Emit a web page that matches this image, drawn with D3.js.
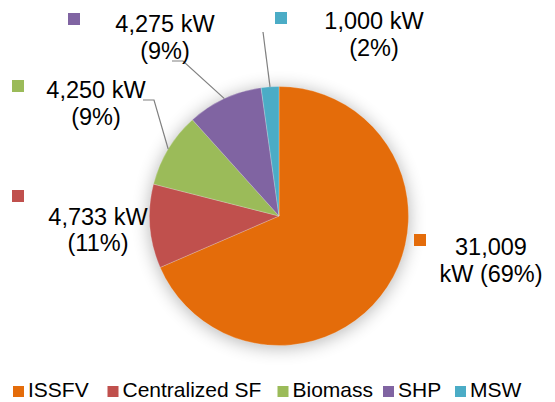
<!DOCTYPE html>
<html><head><meta charset="utf-8">
<script src="https://cdn.jsdelivr.net/npm/d3@7"></script>
<style>html,body{margin:0;padding:0;background:#fff;}svg{display:block;font-family:"Liberation Sans",Arial,sans-serif;}</style>
</head><body>
<svg id="c" width="555" height="402"></svg>
<script>
const categories = ["ISSFV", "Centralized SF", "Biomass", "SHP", "MSW"];
const values = [31009, 4733, 4250, 4275, 1000];
const percentLabels = ["69%", "11%", "9%", "9%", "2%"];
const colors = ["#E46C0A", "#C0504D", "#9BBB59", "#8064A2", "#4BACC6"];

const svg = d3.select("#c");
const cx = 279, cy = 216, R = 129.5;

const defs = svg.append("defs");
const f = defs.append("filter").attr("id", "sh").attr("x", "-30%").attr("y", "-30%").attr("width", "160%").attr("height", "160%");
f.append("feGaussianBlur").attr("in", "SourceAlpha").attr("stdDeviation", 9).attr("result", "b");
f.append("feOffset").attr("in", "b").attr("dx", 0).attr("dy", 2).attr("result", "o");
f.append("feComponentTransfer").attr("in", "o").append("feFuncA").attr("type", "linear").attr("slope", 0.3);

const data = categories.map((c, i) => ({ cat: c, value: values[i], pct: percentLabels[i], color: colors[i] }));
const pie = d3.pie().sort(null).value(d => d.value);
const arcs = pie(data);
const arc = d3.arc().innerRadius(0).outerRadius(R);

const g = svg.append("g").attr("transform", `translate(${cx},${cy})`);
g.append("circle").attr("r", R).attr("fill", "#000").attr("filter", "url(#sh)");
g.selectAll("path.s").data(arcs).join("path").attr("class", "s")
  .attr("d", arc).attr("fill", d => d.data.color)
  .attr("stroke", "#fff").attr("stroke-opacity", 0.4).attr("stroke-width", 0.6);

// label layout (marker box, text center x, baselines)
const fmt = d3.format(",");
const labelLayout = [
  { mx: 414, my: 234, tx: 491, lines: [d => fmt(d.value), d => "kW (" + d.pct + ")"], y: [255, 282] },
  { mx: 12, my: 190, tx: 98, lines: [d => fmt(d.value) + " kW", d => "(" + d.pct + ")"], y: [225, 251] },
  { mx: 12, my: 80, tx: 96, lines: [d => fmt(d.value) + " kW", d => "(" + d.pct + ")"], y: [98, 125], leader: [[143, 100], [154, 100]] },
  { mx: 68, my: 13, tx: 165, lines: [d => fmt(d.value) + " kW", d => "(" + d.pct + ")"], y: [32, 59], leader: [[172, 61], [183, 61]] },
  { mx: 275, my: 12, tx: 374, lines: [d => fmt(d.value) + " kW", d => "(" + d.pct + ")"], y: [29, 56], leader: [[263, 32]] }
];

arcs.forEach((a, i) => {
  const L = labelLayout[i];
  const d = a.data;
  if (L.leader) {
    const mid = (a.startAngle + a.endAngle) / 2;
    const end = [cx + R * Math.sin(mid), cy - R * Math.cos(mid)];
    svg.append("path")
      .attr("d", d3.line()(L.leader.concat([end])))
      .attr("fill", "none").attr("stroke", "#808080").attr("stroke-width", 1.2);
  }
  svg.append("rect").attr("x", L.mx).attr("y", L.my).attr("width", 12).attr("height", 12).attr("fill", d.color);
  L.lines.forEach((fn, j) => {
    svg.append("text").attr("x", L.tx).attr("y", L.y[j]).attr("text-anchor", "middle")
      .attr("font-size", 23.5).attr("fill", "#000").text(fn(d));
  });
});

// legend
const legendX = [13, 107.5, 277.5, 383, 455];
const lg = svg.append("g");
data.forEach((d, i) => {
  lg.append("rect").attr("x", legendX[i]).attr("y", 386).attr("width", 11).attr("height", 11).attr("fill", d.color);
  lg.append("text").attr("x", legendX[i] + 15).attr("y", 397).attr("font-size", 21).attr("fill", "#000").text(d.cat);
});
</script>
</body></html>
